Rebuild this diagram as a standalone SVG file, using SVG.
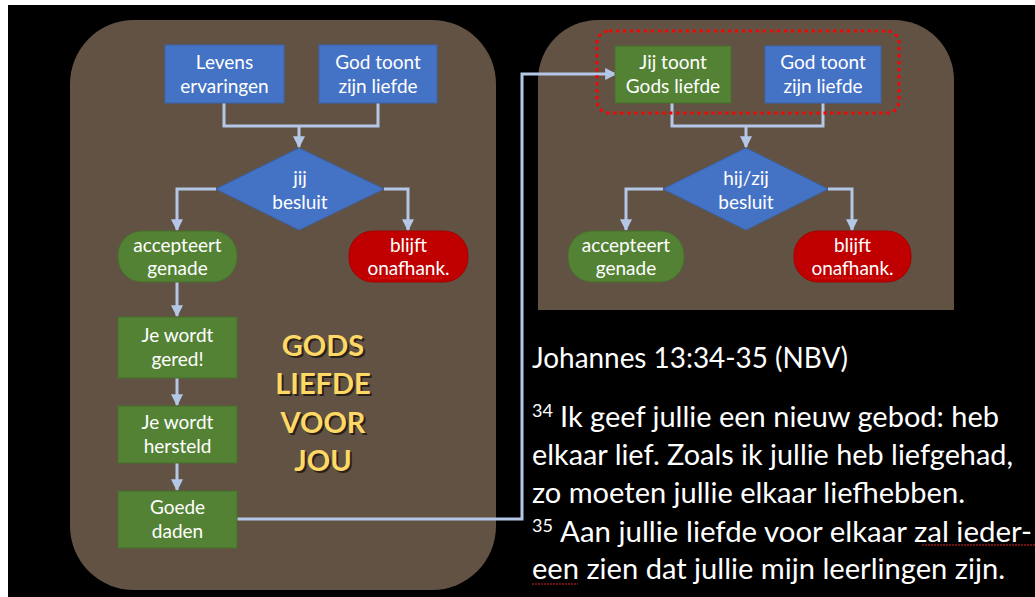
<svg xmlns="http://www.w3.org/2000/svg" width="1035" height="597" viewBox="0 0 1035 597">
<style>
.panel{fill:#625244}
.blue{fill:#4472C4;stroke:#3a64ad;stroke-width:1}
.green{fill:#548235;stroke:#476f2c;stroke-width:1}
.red{fill:#C00000;stroke:#a50000;stroke-width:1}
.t{font-family:Lato,"Open Sans",sans-serif;font-size:19px;fill:#ffffff;text-anchor:middle}
.con{fill:none;stroke:#B4C7E7;stroke-width:3}
.big{font-family:Lato,"Open Sans",sans-serif;font-size:29px;font-weight:bold;fill:#FFD966;text-anchor:middle}
.bigs{font-family:Lato,"Open Sans",sans-serif;font-size:29px;font-weight:bold;fill:#2a2219;text-anchor:middle}
.body{font-family:Lato,"Open Sans",sans-serif;font-size:29px;fill:#ffffff}
.sup{font-family:Lato,"Open Sans",sans-serif;font-size:18px;fill:#ffffff}
.wavy{fill:none;stroke:#e02020;stroke-width:1;stroke-dasharray:2 1}
</style>
<defs>
<marker id="arr" viewBox="0 0 10 10" refX="9" refY="5" markerWidth="4" markerHeight="4" orient="auto" markerUnits="strokeWidth">
<path d="M0,0 L10,5 L0,10 z" fill="#B4C7E7"/>
</marker>
</defs>
<rect x="0" y="0" width="1035" height="597" fill="#ffffff"/>
<rect x="8" y="5" width="1027" height="592" fill="#000000"/>

<g id="panel-left">
<rect class="panel" x="70" y="20" width="426" height="570" rx="64" ry="64"/>
</g>
<g id="panel-right">
<path class="panel" d="M598,20 H894 A60,60 0 0 1 954,80 V310 H538 V80 A60,60 0 0 1 598,20 Z"/>
</g>

<g id="connectors">
<path class="con" d="M224,103 V126 H378 V103"/>
<path class="con" d="M299,126 V147" marker-end="url(#arr)"/>
<path class="con" d="M216,189 H177 V230" marker-end="url(#arr)"/>
<path class="con" d="M384,189 H408 V230" marker-end="url(#arr)"/>
<path class="con" d="M177,282 V316" marker-end="url(#arr)"/>
<path class="con" d="M177,378 V405" marker-end="url(#arr)"/>
<path class="con" d="M177,463 V490" marker-end="url(#arr)"/>
<path class="con" d="M237,519 H522 V74 H616" marker-end="url(#arr)"/>
<path class="con" d="M672,103 V126 H823 V103"/>
<path class="con" d="M746,126 V147" marker-end="url(#arr)"/>
<path class="con" d="M663,189 H626 V230" marker-end="url(#arr)"/>
<path class="con" d="M828,189 H852 V230" marker-end="url(#arr)"/>
</g>

<g id="n-levens">
<rect class="blue" x="165" y="45" width="119" height="58"/>
<text class="t" x="224.5" y="69">Levens</text>
<text class="t" x="224.5" y="93">ervaringen</text>
</g>
<g id="n-godtoont1">
<rect class="blue" x="319" y="45" width="118" height="58"/>
<text class="t" x="378" y="69">God toont</text>
<text class="t" x="378" y="93">zijn liefde</text>
</g>
<g id="n-besluit1">
<polygon class="blue" points="299,148 384,189 299,230 216,189"/>
<text class="t" x="300" y="185">jij</text>
<text class="t" x="300" y="209">besluit</text>
</g>
<g id="n-accepteert1">
<rect class="green" x="118" y="231" width="119" height="51" rx="24" ry="24"/>
<text class="t" x="177.5" y="252">accepteert</text>
<text class="t" x="177.5" y="275">genade</text>
</g>
<g id="n-blijft1">
<rect class="red" x="349" y="231" width="119" height="51" rx="24" ry="24"/>
<text class="t" x="408.5" y="252">blijft</text>
<text class="t" x="408.5" y="275">onafhank.</text>
<path class="wavy" d="M368,278 H443"/>
</g>
<g id="n-gered">
<rect class="green" x="118" y="317" width="119" height="61"/>
<text class="t" x="177.5" y="342">Je wordt</text>
<text class="t" x="177.5" y="366">gered!</text>
</g>
<g id="n-hersteld">
<rect class="green" x="118" y="406" width="119" height="57"/>
<text class="t" x="177.5" y="429">Je wordt</text>
<text class="t" x="177.5" y="453">hersteld</text>
</g>
<g id="n-goede">
<rect class="green" x="118" y="491" width="119" height="57"/>
<text class="t" x="177.5" y="514">Goede</text>
<text class="t" x="177.5" y="538">daden</text>
</g>
<g id="title-gods">
<text class="bigs" x="325" y="358">GODS</text>
<text class="bigs" x="325" y="396">LIEFDE</text>
<text class="bigs" x="325" y="435">VOOR</text>
<text class="bigs" x="325" y="473">JOU</text>
<text class="big" x="323" y="356">GODS</text>
<text class="big" x="323" y="394">LIEFDE</text>
<text class="big" x="323" y="433">VOOR</text>
<text class="big" x="323" y="471">JOU</text>
</g>

<g id="highlight">
<rect x="597" y="31" width="302" height="82" rx="12" ry="12" fill="none" stroke="#FF0000" stroke-width="3" stroke-dasharray="3 4"/>
</g>
<g id="n-jijtoont">
<rect class="green" x="615" y="46" width="116" height="57"/>
<text class="t" x="673" y="69">Jij toont</text>
<text class="t" x="673" y="93">Gods liefde</text>
</g>
<g id="n-godtoont2">
<rect class="blue" x="765" y="46" width="116" height="57"/>
<text class="t" x="823" y="69">God toont</text>
<text class="t" x="823" y="93">zijn liefde</text>
</g>
<g id="n-besluit2">
<polygon class="blue" points="746,148 828,189 746,230 663,189"/>
<text class="t" x="746" y="185">hij/zij</text>
<text class="t" x="746" y="209">besluit</text>
</g>
<g id="n-accepteert2">
<rect class="green" x="568" y="231" width="116" height="51" rx="24" ry="24"/>
<text class="t" x="626" y="252">accepteert</text>
<text class="t" x="626" y="275">genade</text>
</g>
<g id="n-blijft2">
<rect class="red" x="794" y="231" width="117" height="51" rx="24" ry="24"/>
<text class="t" x="852.5" y="252">blijft</text>
<text class="t" x="852.5" y="275">onafhank.</text>
<path class="wavy" d="M812,278 H890"/>
</g>

<g id="scripture">
<text class="body" x="532" y="368" textLength="316" lengthAdjust="spacingAndGlyphs">Johannes 13:34-35 (NBV)</text>
<text class="sup" x="532" y="417">34</text>
<text class="body" x="560" y="427" textLength="439" lengthAdjust="spacingAndGlyphs">Ik geef jullie een nieuw gebod: heb</text>
<text class="body" x="532" y="465" textLength="481" lengthAdjust="spacingAndGlyphs">elkaar lief. Zoals ik jullie heb liefgehad,</text>
<text class="body" x="532" y="503" textLength="433" lengthAdjust="spacingAndGlyphs">zo moeten jullie elkaar liefhebben.</text>
<text class="sup" x="532" y="532">35</text>
<text class="body" x="560" y="542" textLength="472" lengthAdjust="spacingAndGlyphs">Aan jullie liefde voor elkaar zal ieder-</text>
<text class="body" x="532" y="579" textLength="473" lengthAdjust="spacingAndGlyphs">een zien dat jullie mijn leerlingen zijn.</text>
<path class="wavy" d="M922,545 H1035"/>
<path class="wavy" d="M532,584 H578"/>
</g>
</svg>
